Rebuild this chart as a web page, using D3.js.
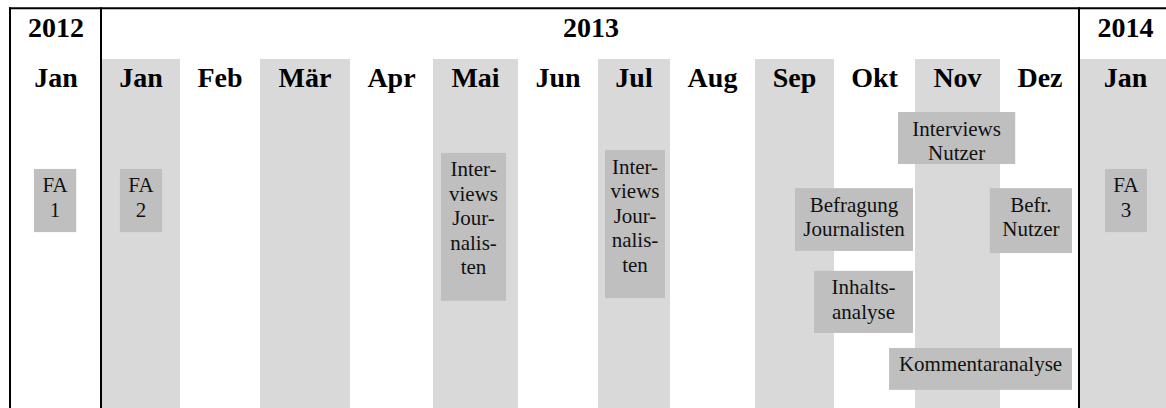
<!DOCTYPE html>
<html>
<head>
<meta charset="utf-8">
<script src="https://cdn.jsdelivr.net/npm/d3@7"></script>
<style>
  html, body { margin: 0; padding: 0; background: #fff; }
  svg { display: block; }
</style>
</head>
<body>
<svg id="chart" width="1166" height="408"></svg>
<script>
// ---- data ----
const years = ["2012", "2013", "2014"];
const yearSpans = [[0, 1], [1, 13], [13, 14]];           // month-index ranges per year
const months = ["Jan", "Jan", "Feb", "Mär", "Apr", "Mai", "Jun", "Jul", "Aug", "Sep", "Okt", "Nov", "Dez", "Jan"];
const shadedMonths = [1, 3, 5, 7, 9, 11, 13];

// activities: label lines, start/end (month index), top/bottom (% of body height)
const activityLabels = [
  ["FA", "1"],
  ["FA", "2"],
  ["Inter-", "views", "Jour-", "nalis-", "ten"],
  ["Inter-", "views", "Jour-", "nalis-", "ten"],
  ["Interviews", "Nutzer"],
  ["Befragung", "Journalisten"],
  ["Befr.", "Nutzer"],
  ["Inhalts-", "analyse"],
  ["Kommentaranalyse"],
  ["FA", "3"]
];
const activityStart = [0.26, 1.23, 5.094, 7.097, 10.79, 9.506, 11.88, 9.747, 10.68, 13.275];
const activityEnd   = [0.72, 1.77, 5.859, 7.931, 12.19, 10.975, 12.9, 10.975, 12.9, 13.736];
const activityTop   = [31.5, 31.5, 26.9, 26.1, 15.2, 37.0, 37.0, 60.7, 82.8, 31.5];
const activityBottom= [49.6, 49.6, 69.3, 68.5, 30.1, 55.0, 55.6, 78.5, 94.8, 49.6];

// ---- layout ----
const W = 1166, H = 408;
const colWidths = [92, 78, 80, 90, 83, 85, 80, 72, 85, 79, 81, 85, 80, 91];
const frameLeft = 10, frameTop = 8.3, bodyTop = 59, bodyBottom = H;
const light = "#d9d9d9", boxFill = "#bfbfbf";
const serif = "'Liberation Serif', 'Times New Roman', Times, serif";

const edges = [frameLeft];
colWidths.forEach(w => edges.push(edges[edges.length - 1] + w));
const x = d3.scaleLinear().domain(d3.range(edges.length)).range(edges);
const y = d3.scaleLinear().domain([0, 100]).range([bodyTop, bodyBottom]);

const svg = d3.select("#chart");

// shaded month columns
svg.append("g").selectAll("rect").data(shadedMonths).join("rect")
  .attr("x", d => x(d)).attr("width", d => x(d + 1) - x(d))
  .attr("y", bodyTop).attr("height", bodyBottom - bodyTop)
  .attr("fill", light);

// year labels
svg.append("g").selectAll("text").data(years).join("text")
  .attr("x", (d, i) => (x(yearSpans[i][0]) + x(yearSpans[i][1])) / 2)
  .attr("y", 37)
  .attr("text-anchor", "middle")
  .attr("font-family", serif).attr("font-weight", "bold").attr("font-size", 28)
  .attr("fill", "#000")
  .text(d => d);

// month labels
svg.append("g").selectAll("text").data(months).join("text")
  .attr("x", (d, i) => (x(i) + x(i + 1)) / 2)
  .attr("y", 87)
  .attr("text-anchor", "middle")
  .attr("font-family", serif).attr("font-weight", "bold").attr("font-size", 28)
  .attr("fill", "#000")
  .text(d => d);

// activities
const acts = activityLabels.map((lab, i) => ({
  lines: lab, s: activityStart[i], e: activityEnd[i], t: activityTop[i], b: activityBottom[i]
}));
const ag = svg.append("g").selectAll("g").data(acts).join("g");
ag.append("rect")
  .attr("x", d => x(d.s)).attr("width", d => x(d.e) - x(d.s))
  .attr("y", d => y(d.t)).attr("height", d => y(d.b) - y(d.t))
  .attr("fill", boxFill);
ag.each(function (d) {
  const cx = (x(d.s) + x(d.e)) / 2;
  d3.select(this).selectAll("text").data(d.lines).join("text")
    .attr("x", cx)
    .attr("y", (l, j) => y(d.t) + 23.5 + j * 24.5)
    .attr("text-anchor", "middle")
    .attr("font-family", serif).attr("font-size", 21)
    .attr("fill", "#111")
    .text(l => l);
});

// frame lines
const lineG = svg.append("g").attr("stroke", "#000").attr("stroke-width", 2);
lineG.append("line").attr("x1", frameLeft - 1).attr("x2", W).attr("y1", frameTop).attr("y2", frameTop);
[0, 1, 13].forEach(i => {
  const xx = i === 0 ? x(0) : x(i) - 1;
  lineG.append("line").attr("x1", xx).attr("x2", xx).attr("y1", frameTop - 1).attr("y2", H);
});
</script>
</body>
</html>
